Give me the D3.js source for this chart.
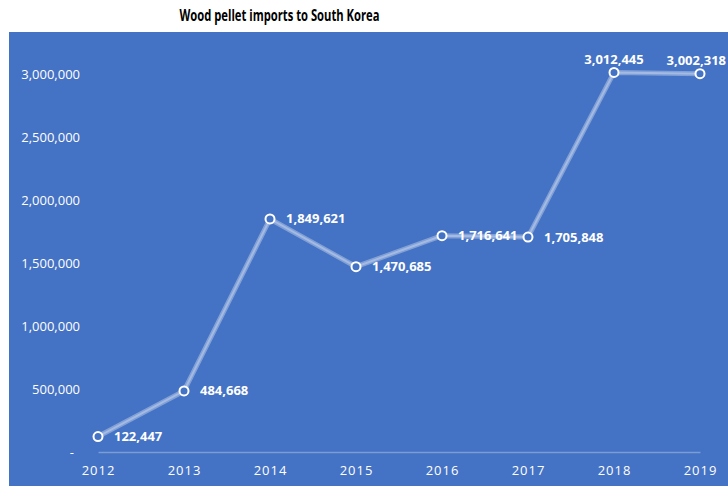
<!DOCTYPE html>
<html>
<head>
<meta charset="utf-8">
<script src="https://cdn.jsdelivr.net/npm/d3@7"></script>
<style>
  html, body { margin: 0; padding: 0; background: #ffffff; }
  svg { display: block; }
</style>
</head>
<body>
<svg id="chart" width="728" height="486"></svg>
<script>
// Annual wood pellet imports (tonnes)
const years = ["2012", "2013", "2014", "2015", "2016", "2017", "2018", "2019"];
const imports = [122447, 484668, 1849621, 1470685, 1716641, 1705848, 3012445, 3002318];
// Where each value label sits relative to its point
const labelSide = ["right", "right", "right", "right", "right", "right", "above", "above"];
const yTicks = [0, 500000, 1000000, 1500000, 2000000, 2500000, 3000000];
const titleText = "Wood pellet imports to South Korea";

const W = 728, H = 486;
const panel = { x: 9, y: 32, w: W - 9, h: H - 32 };
const plot = { left: 98, right: 700, top: 74, bottom: 452 };
const FONT = "'Open Sans', 'Noto Sans', sans-serif";

const svg = d3.select("#chart");

// Title
svg.append("text")
  .attr("x", 279.5).attr("y", 21)
  .attr("text-anchor", "middle")
  .attr("font-family", FONT)
  .attr("font-weight", 700)
  .attr("font-size", 15.5)
  .attr("fill", "#000")
  .attr("textLength", 200)
  .attr("lengthAdjust", "spacingAndGlyphs")
  .text(titleText);

// Blue chart panel
svg.append("rect")
  .attr("x", panel.x).attr("y", panel.y)
  .attr("width", panel.w).attr("height", panel.h)
  .attr("fill", "#4472c4");

const x = d3.scalePoint().domain(years).range([plot.left, plot.right]);
const y = d3.scaleLinear().domain([0, 3000000]).range([plot.bottom, plot.top]);

// Value axis (labels only)
const yAxis = svg.append("g")
  .attr("transform", `translate(${plot.left - 18},0)`)
  .call(d3.axisLeft(y).tickValues(yTicks).tickSize(0).tickPadding(0)
    .tickFormat(d => d === 0 ? "-" : d3.format(",")(d)));
yAxis.select(".domain").remove();
yAxis.selectAll("text")
  .attr("font-family", FONT)
  .attr("font-size", 13)
  .attr("fill", "#ffffff")
  .attr("dx", d => d === 0 ? -6 : 0);

// Category axis
const xAxis = svg.append("g")
  .attr("transform", `translate(0,${plot.bottom})`)
  .call(d3.axisBottom(x).tickSize(0).tickPadding(14));
xAxis.select(".domain")
  .attr("stroke", "rgba(255,255,255,0.3)")
  .attr("stroke-width", 1.5);
xAxis.selectAll("text")
  .attr("font-family", FONT)
  .attr("font-size", 13)
  .attr("letter-spacing", "1px")
  .attr("fill", "#ffffff");

const data = years.map((yr, i) => ({ year: yr, value: imports[i], side: labelSide[i] }));

const line = d3.line().x(d => x(d.year)).y(d => y(d.value));

// Soft translucent line with a brighter core
svg.append("path").datum(data)
  .attr("d", line)
  .attr("fill", "none")
  .attr("stroke", "rgba(255,255,255,0.33)")
  .attr("stroke-width", 5)
  .attr("stroke-linejoin", "round");
svg.append("path").datum(data)
  .attr("d", line)
  .attr("fill", "none")
  .attr("stroke", "rgba(255,255,255,0.28)")
  .attr("stroke-width", 2)
  .attr("stroke-linejoin", "round");

// Hollow markers
svg.append("g").selectAll("circle").data(data).join("circle")
  .attr("cx", d => x(d.year))
  .attr("cy", d => y(d.value))
  .attr("r", 4.5)
  .attr("fill", "#4472c4")
  .attr("stroke", "#ffffff")
  .attr("stroke-width", 2);

// Value labels; labels above a point are kept inside the panel's right edge
const labels = svg.append("g").selectAll("text").data(data).join("text")
  .attr("x", d => d.side === "above" ? x(d.year) : x(d.year) + 16)
  .attr("y", d => d.side === "above" ? y(d.value) - 13 : y(d.value))
  .attr("dy", "0.35em")
  .attr("text-anchor", d => d.side === "above" ? "middle" : "start")
  .attr("font-family", FONT)
  .attr("font-weight", 700)
  .attr("font-size", 13)
  .attr("fill", "#ffffff")
  .text(d => d3.format(",")(d.value));

labels.each(function (d) {
  if (d.side !== "above") return;
  const half = this.getComputedTextLength() / 2;
  const cx = Math.min(x(d.year), W - 2 - half);
  d3.select(this).attr("x", cx);
});
</script>
</body>
</html>
